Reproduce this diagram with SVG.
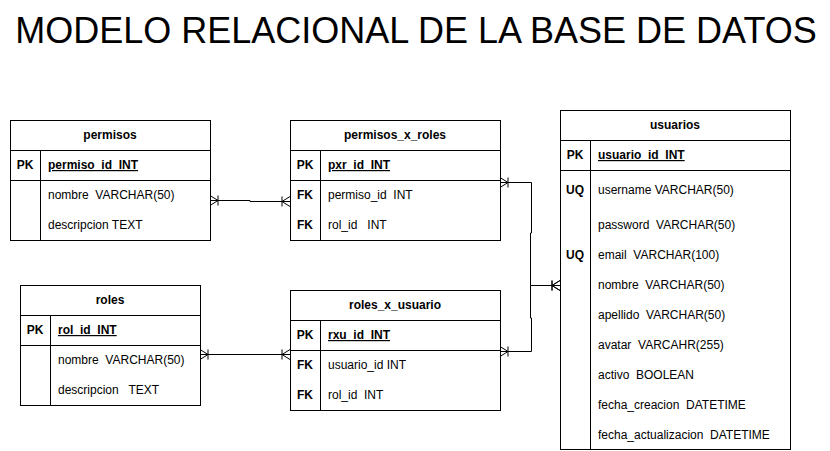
<svg xmlns="http://www.w3.org/2000/svg" width="830" height="451" viewBox="0 0 830 451">
<style>
text{font-family:"Liberation Sans",Arial,sans-serif;font-size:12px;fill:#000;white-space:pre}
.t{font-weight:bold;text-anchor:middle}
.k{font-weight:bold;text-anchor:middle}
.pk{font-weight:bold;text-decoration:underline}
.box{fill:#fff;stroke:#000;stroke-width:1}
.ln{stroke:#000;stroke-width:1;fill:none}
.c{stroke:#000;stroke-width:1;fill:none;marker-start:url(#cf);marker-end:url(#cf)}
.title{font-size:36px;text-anchor:middle}
</style>
<defs>
<marker id="cf" markerUnits="userSpaceOnUse" markerWidth="10" markerHeight="12" viewBox="0 0 10 12" refX="10" refY="6" orient="auto-start-reverse" overflow="visible">
<path d="M10 1 L2 6 L10 11 M10 6 H2 M2 1 V11" fill="none" stroke="#000" stroke-width="1"/>
</marker>
</defs>
<rect width="830" height="451" fill="#fff"/>
<text class="title" x="416" y="43">MODELO RELACIONAL DE LA BASE DE DATOS</text>

<g id="connectors">
<path class="c" d="M210 200.5 H250 V201.5 H290"/>
<path class="c" d="M200 354.5 H290"/>
<path class="c" d="M500 182.5 H531.5 V233 H530.5 V285.5 H560"/>
<path class="c" d="M500 351.5 H531.5 V318 H530.5 V285.5 H560"/>
</g>

<g id="permisos">
<rect class="box" x="10.5" y="120.5" width="200" height="120"/>
<path class="ln" d="M10.5 150.5 H210.5 M10.5 180.5 H210.5 M40.5 150.5 V240.5"/>
<text class="t" x="110" y="139">permisos</text>
<text class="k" x="25" y="169">PK</text>
<text class="pk" x="48" y="169">permiso_id  INT</text>
<text x="48" y="199">nombre  VARCHAR(50)</text>
<text x="48" y="229">descripcion TEXT</text>
</g>

<g id="permisos_x_roles">
<rect class="box" x="290.5" y="120.5" width="210" height="120"/>
<path class="ln" d="M290.5 150.5 H500.5 M290.5 180.5 H500.5 M320.5 150.5 V240.5"/>
<text class="t" x="395" y="139">permisos_x_roles</text>
<text class="k" x="305" y="169">PK</text>
<text class="pk" x="328" y="169">pxr_id  INT</text>
<text class="k" x="305" y="199">FK</text>
<text x="328" y="199">permiso_id  INT</text>
<text class="k" x="305" y="229">FK</text>
<text x="328" y="229">rol_id   INT</text>
</g>

<g id="roles">
<rect class="box" x="20.5" y="285.5" width="180" height="120"/>
<path class="ln" d="M20.5 315.5 H200.5 M20.5 345.5 H200.5 M50.5 315.5 V405.5"/>
<text class="t" x="110" y="304">roles</text>
<text class="k" x="35" y="334">PK</text>
<text class="pk" x="58" y="334">rol_id  INT</text>
<text x="58" y="364">nombre  VARCHAR(50)</text>
<text x="58" y="394">descripcion   TEXT</text>
</g>

<g id="roles_x_usuario">
<rect class="box" x="290.5" y="290.5" width="210" height="120"/>
<path class="ln" d="M290.5 320.5 H500.5 M290.5 350.5 H500.5 M320.5 320.5 V410.5"/>
<text class="t" x="395" y="309">roles_x_usuario</text>
<text class="k" x="305" y="339">PK</text>
<text class="pk" x="328" y="339">rxu_id  INT</text>
<text class="k" x="305" y="369">FK</text>
<text x="328" y="369">usuario_id INT</text>
<text class="k" x="305" y="399">FK</text>
<text x="328" y="399">rol_id  INT</text>
</g>

<g id="usuarios">
<rect class="box" x="560.5" y="110.5" width="230" height="339"/>
<path class="ln" d="M560.5 140.5 H790.5 M560.5 170.5 H790.5 M590.5 140.5 V449.5"/>
<text class="t" x="675" y="129">usuarios</text>
<text class="k" x="575" y="159">PK</text>
<text class="pk" x="598" y="159">usuario_id  INT</text>
<text class="k" x="575" y="194">UQ</text>
<text x="598" y="194">username VARCHAR(50)</text>
<text x="598" y="229">password  VARCHAR(50)</text>
<text class="k" x="575" y="259">UQ</text>
<text x="598" y="259">email  VARCHAR(100)</text>
<text x="598" y="289">nombre  VARCHAR(50)</text>
<text x="598" y="319">apellido  VARCHAR(50)</text>
<text x="598" y="349">avatar  VARCAHR(255)</text>
<text x="598" y="379">activo  BOOLEAN</text>
<text x="598" y="409">fecha_creacion  DATETIME</text>
<text x="598" y="439">fecha_actualizacion  DATETIME</text>
</g>
</svg>
